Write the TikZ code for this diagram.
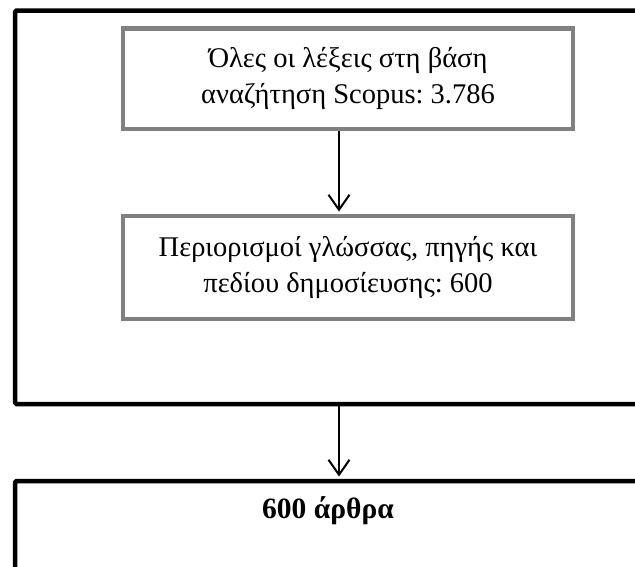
\documentclass[tikz,border=0pt]{standalone}
\usepackage{fontspec}
\setmainfont{Liberation Serif}
\usetikzlibrary{arrows.meta, positioning}

\begin{document}
\frenchspacing
\begin{tikzpicture}[x=1pt, y=-1pt, font=\fontsize{28.5}{36}\selectfont, frame/.style={draw, line width=4.5pt, rounded corners=1.5pt, inner sep=0pt, minimum width=648pt}, gbox/.style={draw=gray, line width=4.5pt, inner sep=0pt, minimum width=450pt, align=center}, flow/.style={-{Straight Barb[length=15pt, width=21pt]}, line width=2pt, shorten >=2.25pt}]
\useasboundingbox[fill=white] (0,0) rectangle (635,566);
\node[frame, minimum height=393.5pt] (search) at (339,207.25) {};
\node[frame, minimum height=200pt] (results) at (339,581) {};
\node[gbox, minimum height=100.5pt] (scopus) at (348,78.75) {Όλες οι λέξεις στη βάση\\αναζήτηση Scopus: 3.786};
\node[gbox, minimum height=103pt] (limits) at (348,267.5) {Περιορισμοί γλώσσας, πηγής και\\πεδίου δημοσίευσης: 600};
\node[inner sep=0pt, font=\fontsize{29.5}{36}\selectfont\bfseries] (count) at (328,511) {600 άρθρα};
\draw[flow] (scopus.south -| search.center) -- (limits.north -| search.center);
\draw[flow] (search) -- (results);
\end{tikzpicture}
\end{document}
